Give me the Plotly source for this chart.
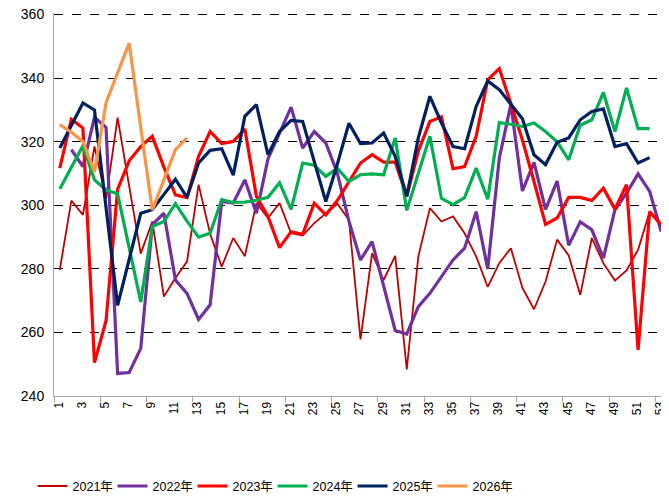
import plotly.graph_objects as go

weeks = list(range(1, 54))
tick_weeks = list(range(1, 54, 2))
tick_labels = [str(w) for w in tick_weeks]

y2021 = [279.7, 301.5, 297.0, 318.5, 302.0, 327.6, 306.0, 284.8, 294.9, 271.3,
         277.1, 282.3, 306.5, 291.0, 280.7, 289.7, 284.0, 300.7, 296.0, 300.7,
         291.2, 290.5, 294.4, 297.5, 300.5, 295.4, 257.8, 284.9, 276.5, 284.1,
         248.4, 283.9, 299.1, 294.9, 296.5, 291.2, 283.9, 274.3, 281.8, 286.5,
         274.0, 267.3, 276.0, 289.2, 284.2, 271.8, 289.7, 281.8, 276.3, 279.5,
         286.0, 298.0, 293.9]
y2022 = [None, 317.5, 312.2, 327.7, 324.5, 247.1, 247.4, 255.0, 293.9, 297.5,
         276.5, 272.3, 264.1, 268.7, 301.2, 300.7, 308.0, 297.5, 314.6, 322.7,
         330.9, 318.0, 323.2, 319.6, 310.1, 295.0, 282.8, 288.6, 274.4, 260.6,
         259.5, 268.1, 272.3, 277.4, 282.8, 286.5, 298.0, 280.0, 314.8, 331.8,
         304.5, 313.5, 298.7, 307.6, 287.4, 294.8, 292.3, 283.4, 298.6, 303.8,
         309.9, 304.4, 291.7]
y2023 = [311.7, 327.1, 324.3, 250.5, 263.7, 305.0, 314.0, 318.5, 321.7, 312.0,
         303.3, 302.4, 315.4, 323.2, 319.4, 320.1, 324.0, 302.8, 296.5, 286.7,
         291.7, 290.9, 300.7, 297.0, 301.5, 307.5, 313.3, 315.9, 313.6, 313.6,
         302.8, 317.0, 326.4, 327.8, 311.5, 312.2, 321.7, 339.5, 343.0, 332.0,
         320.5, 307.5, 294.0, 296.0, 302.5, 302.5, 301.5, 305.4, 298.8, 306.5,
         254.5, 298.0, 293.9]
y2024 = [305.1, 312.0, 318.7, 308.0, 304.8, 303.6, 286.6, 269.6, 293.3, 294.9,
         300.5, 295.0, 290.0, 291.2, 301.8, 300.9, 301.0, 301.6, 302.5, 307.1,
         298.7, 313.3, 312.6, 309.1, 311.7, 307.5, 309.6, 309.9, 309.6, 321.2,
         298.4, 310.1, 321.7, 302.2, 300.2, 302.4, 311.7, 301.9, 326.0, 325.5,
         324.8, 325.9, 323.2, 320.0, 314.3, 325.2, 326.9, 335.5, 323.2, 336.9,
         324.1, 324.1]
y2025 = [318.0, 325.0, 332.2, 330.0, 300.0, 268.5, 283.0, 297.5, 298.6, 303.5,
         308.2, 302.5, 313.3, 317.3, 317.8, 309.5, 328.0, 331.7, 315.9, 323.2,
         326.7, 326.4, 314.0, 301.2, 313.0, 325.8, 319.4, 319.6, 322.7, 315.4,
         302.8, 321.2, 334.3, 325.9, 318.5, 317.8, 331.1, 339.1, 336.4, 331.9,
         327.2, 315.9, 312.8, 319.8, 321.2, 326.9, 329.5, 330.3, 318.5, 319.4,
         313.3, 315.0]
y2026 = [325.4, 323.0, 320.1, 310.5, 332.3, 341.5, 351.0, 324.5, 298.5, 308.0,
         317.5, 321.2]

series = [
    ("2021年", y2021, "#C00000", 1.8),
    ("2022年", y2022, "#7030A0", 3.2),
    ("2023年", y2023, "#FF0000", 3.2),
    ("2024年", y2024, "#00B050", 3.2),
    ("2025年", y2025, "#002060", 3.2),
    ("2026年", y2026, "#F79646", 3.2),
]

fig = go.Figure()
for name, vals, color, width in series:
    fig.add_trace(go.Scatter(
        x=weeks[:len(vals)], y=vals, name=name, mode="lines",
        line=dict(color=color, width=width), connectgaps=False,
    ))

font_family = "Liberation Sans, Arial, Noto Sans CJK SC"
legend_family = "Liberation Sans Narrow, Liberation Sans, Noto Sans CJK SC"

fig.update_layout(
    width=661, height=490,
    margin=dict(l=46, r=2, t=5.4, b=102, autoexpand=False),
    paper_bgcolor="white", plot_bgcolor="white",
    font=dict(family=font_family, color="black"),
    showlegend=True,
    legend=dict(
        orientation="h", x=-0.035, xanchor="left", y=-0.236, yanchor="middle",
        font=dict(size=12.5, family=legend_family, color="black"),
        entrywidth=35, entrywidthmode="pixels", itemwidth=30,
        bgcolor="rgba(0,0,0,0)",
    ),
    xaxis=dict(
        range=[0.5, 53.5], tickmode="array", tickvals=tick_weeks, ticktext=tick_labels,
        tickangle=-90, tickfont=dict(size=12, color="black"),
        showgrid=False, zeroline=False, showline=True, linecolor="#A6A6A6", linewidth=1,
        ticks="", automargin=False, ticklabeloverflow="allow", ticklabelshift=-1,
        minor=dict(ticks="outside", tick0=0.5, dtick=4, ticklen=5, tickcolor="#A6A6A6",
                   showgrid=False),
    ),
    yaxis=dict(
        range=[240, 360.5], tickmode="array", tickvals=[240, 260, 280, 300, 320, 340, 360],
        tickfont=dict(size=14, color="black"), automargin=False,
        ticklabeloverflow="allow",
        showgrid=True, gridcolor="black", gridwidth=1, griddash="dash",
        zeroline=False, showline=True, linecolor="#A6A6A6", linewidth=1,
        ticks="", ticklabelstandoff=6,
    ),
)

fig.write_html("out.html")
